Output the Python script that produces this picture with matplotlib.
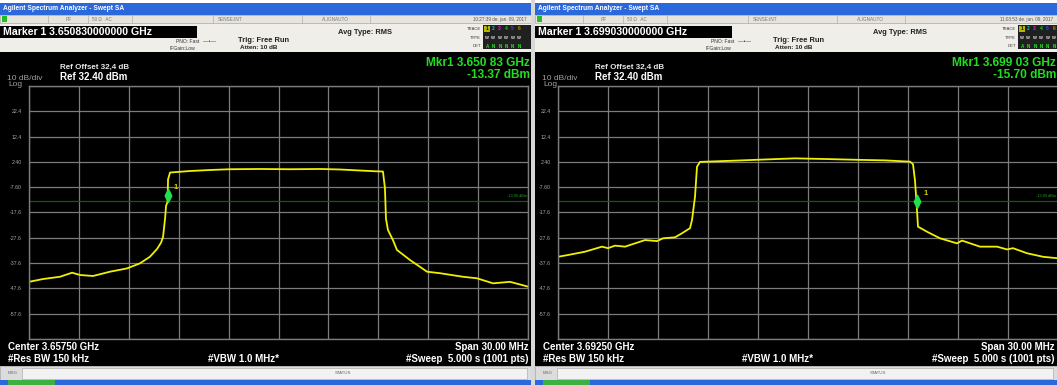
import numpy as np
import matplotlib
matplotlib.use('Agg')
import matplotlib.pyplot as plt
from matplotlib.path import Path
from matplotlib.patches import Rectangle

plt.rcParams['font.family'] = ['Liberation Sans', 'DejaVu Sans']

# trace
LEFT_FREQ_GHZ = [3.64250, 3.64334, 3.64436, 3.64509, 3.64557, 3.64635, 3.64737, 3.64839,
                 3.64917, 3.64977, 3.65020, 3.65044, 3.65056, 3.65068, 3.65074, 3.65083,
                 3.65086, 3.65098, 3.65218, 3.65338, 3.65458, 3.65639, 3.65819, 3.65999,
                 3.66120, 3.66240, 3.66330, 3.66378, 3.66390, 3.66396, 3.66408, 3.66438,
                 3.66462, 3.66541, 3.66643, 3.66721, 3.66859, 3.66943, 3.67040, 3.67142,
                 3.67250]
LEFT_LEVEL_DBM = [-45.0, -43.9, -43.0, -41.4, -42.3, -42.7, -41.0, -39.7,
                  -37.7, -35.1, -32.0, -29.5, -27.2, -20.0, -15.0, -13.37,
                  -4.5, -1.8, -1.2, -0.8, -0.5, -0.4, -0.5, -0.4,
                  -0.6, -1.0, -1.3, -1.4, -8.0, -20.0, -24.5, -28.5,
                  -32.4, -36.4, -41.0, -41.6, -43.0, -43.6, -45.6, -45.0,
                  -46.9]
RIGHT_FREQ_GHZ = [3.67750, 3.67810, 3.67912, 3.68014, 3.68050, 3.68092, 3.68152, 3.68212,
                  3.68272, 3.68344, 3.68380, 3.68452, 3.68494, 3.68542, 3.68554, 3.68572,
                  3.68584, 3.68602, 3.68812, 3.69010, 3.69172, 3.69382, 3.69562, 3.69712,
                  3.69862, 3.69880, 3.69892, 3.69903, 3.69910, 3.69964, 3.70042, 3.70144,
                  3.70174, 3.70282, 3.70384, 3.70444, 3.70480, 3.70564, 3.70660, 3.70750]
RIGHT_LEVEL_DBM = [-35.1, -34.4, -33.1, -31.1, -31.7, -30.7, -31.1, -29.8,
                   -28.5, -28.9, -27.8, -27.4, -25.8, -23.8, -20.6, -11.4,
                   0.5, 2.4, 2.9, 3.4, 3.8, 3.5, 3.2, 3.0,
                   2.5, 1.5, -5.0, -15.70, -23.2, -25.2, -27.8, -29.8,
                   -28.7, -31.1, -31.1, -32.2, -31.7, -33.7, -35.1, -35.7]

CENTERS_GHZ = [3.6575, 3.6925]
SPAN_GHZ = 0.030
REF_LEVEL = 32.4
DB_PER_DIV = 10
MARKERS = [(3.65083, -13.37), (3.69903, -15.70)]
DISPLAY_LINE = -13.0
Y_TICK_LABELS = ['', '-57.6', '-47.6', '-37.6', '-27.6', '-17.6', '-7.60', '2.40', '12.4', '22.4', '']
TIMESTAMPS = ['10:27:39 de. jan. 09, 2017', '11:03:53 de. jan. 09, 2017']
MARKER_TEXT = ['Marker 1 3.650830000000 GHz', 'Marker 1 3.699030000000 GHz']
MKR_FREQ_TEXT = ['Mkr1 3.650 83 GHz', 'Mkr1 3.699 03 GHz']
MKR_LEVEL_TEXT = ['-13.37 dBm', '-15.70 dBm']
CENTER_TEXT = ['Center 3.65750 GHz', 'Center 3.69250 GHz']

W, H = 1057, 385
TITLE_BLUE = '#2a68dc'
TRACE_YELLOW = '#f0f000'
MKR_GREEN = '#22dd22'
GRID_GRAY = '#7c7c7c'

fig = plt.figure(figsize=(W / 100, H / 100), dpi=100)
fig.patch.set_facecolor('white')
bg = fig.add_axes([0, 0, 1, 1])
bg.set_xlim(0, W)
bg.set_ylim(H, 0)
bg.axis('off')

DIAMOND = Path([(0, 0), (0.5, 1), (0, 2), (-0.5, 1), (0, 0)],
               [Path.MOVETO, Path.LINETO, Path.LINETO, Path.LINETO, Path.CLOSEPOLY])


def txt(x, y, s, size, color='black', weight='normal', ha='left', va='center'):
    bg.text(x, y, s, fontsize=size, color=color, fontweight=weight, ha=ha, va=va)


def draw_panel(i, ox, pw, ax_x0, ax_x1, freq, level):
    right = ox + pw
    # window chrome
    bg.add_patch(Rectangle((ox, 3), pw, 12, color=TITLE_BLUE, lw=0))
    txt(ox + 3, 9, 'Agilent Spectrum Analyzer - Swept SA', 4.8, 'white', 'bold')
    bg.add_patch(Rectangle((ox, 15), pw, 37, color='#efeee8', lw=0))
    bg.add_patch(Rectangle((ox, 15), pw, 8, facecolor='#e6e4dc', edgecolor='#a8a8a8', lw=0.5))
    for sx in [48, 88, 132, 213, 302, 370]:
        bg.plot([ox + sx, ox + sx], [15, 23], color='#b0b0b0', lw=0.5)
    bg.add_patch(Rectangle((ox + 2, 16), 5, 6, color='#22bb22', lw=0))
    txt(ox + 66, 19.5, 'RF', 3.3, '#777777')
    txt(ox + 92, 19.5, '50 \u03a9   AC', 3.3, '#777777')
    txt(ox + 218, 19.5, 'SENSE:INT', 3.3, '#777777')
    txt(ox + 322, 19.5, 'ALIGNAUTO', 3.3, '#777777')
    txt(right - 4, 19.5, TIMESTAMPS[i], 3.3, '#555555', ha='right')
    bg.add_patch(Rectangle((ox, 26), 197, 12, color='black', lw=0))
    txt(ox + 3, 32, MARKER_TEXT[i], 7.6, 'white', 'bold')
    txt(ox + 176, 41.5, 'PNO: Fast', 3.6, '#333333')
    txt(ox + 170, 48, 'IFGain:Low', 3.6, '#333333')
    txt(ox + 203, 42, '\u2014\u2022\u2014', 4, '#333333')
    txt(ox + 238, 40, 'Trig: Free Run', 5.4, '#222222', 'bold')
    txt(ox + 240, 47.5, 'Atten: 10 dB', 4.6, '#222222', 'bold')
    txt(ox + 338, 32, 'Avg Type: RMS', 5.4, '#222222', 'bold')
    txt(ox + 481, 29, 'TRACE', 3.0, '#333333', ha='right')
    txt(ox + 481, 38, 'TYPE', 3.0, '#333333', ha='right')
    txt(ox + 481, 46, 'DET', 3.0, '#333333', ha='right')
    bg.add_patch(Rectangle((ox + 483, 25), right - ox - 483, 24, color='#202020', lw=0))
    bg.add_patch(Rectangle((ox + 484, 26), 6, 6, color='#b8b800', lw=0))
    for k, c in enumerate(['#101010', '#10c0c0', '#e020e0', '#20c020', '#4040ff', '#c08000']):
        txt(ox + 485.5 + k * 6.4, 29, str(k + 1), 3.6, c, 'bold')
        txt(ox + 485 + k * 6.4, 38, 'W', 3.0, '#e0e0e0', 'bold')
        txt(ox + 485.5 + k * 6.4, 46, 'A' if k == 0 else 'N', 3.3, '#30e030', 'bold')

    # black display area
    bg.add_patch(Rectangle((ox, 52), pw, 314, color='black', lw=0))
    txt(ox + 60, 67.5, 'Ref Offset 32,4 dB', 5.8, '#e8e8e8', 'bold')
    txt(ox + 7, 78, '10 dB/div', 6.0, '#a0a0a0')
    txt(ox + 60, 77.5, 'Ref 32.40 dBm', 7.0, 'white', 'bold')
    txt(ox + 8, 85, 'Log', 6.0, '#a0a0a0')
    txt(right - 1, 63, MKR_FREQ_TEXT[i], 8.6, MKR_GREEN, 'bold', ha='right')
    txt(right - 1, 75.5, MKR_LEVEL_TEXT[i], 8.6, MKR_GREEN, 'bold', ha='right')
    txt(ox + 8, 347, CENTER_TEXT[i], 7.0, 'white', 'bold')
    txt(ox + 8, 358.5, '#Res BW 150 kHz', 7.0, 'white', 'bold')
    txt(ox + 243, 358.5, '#VBW 1.0 MHz*', 7.0, 'white', 'bold', ha='center')
    txt(right - 2, 347, 'Span 30.00 MHz', 7.0, 'white', 'bold', ha='right')
    txt(right - 2, 358.5, '#Sweep  5.000 s (1001 pts)', 7.0, 'white', 'bold', ha='right')

    # status strip
    bg.add_patch(Rectangle((ox, 366), pw, 14, facecolor='#dcdcdc', edgecolor='#a0a0a0', lw=0.5))
    bg.add_patch(Rectangle((ox + 22, 367.5), pw - 26, 11, facecolor='#f2f2f2', edgecolor='#b0b0b0', lw=0.5))
    txt(ox + 8, 373, 'MSG', 3.2, '#666666')
    txt(ox + 335, 373, 'STATUS', 3.2, '#666666')
    bg.add_patch(Rectangle((ox, 380), pw, 5, color=TITLE_BLUE, lw=0))
    bg.add_patch(Rectangle((ox + 8, 380), 47, 5, color='#3cb043', lw=0))

    # the trace graticule
    ax = fig.add_axes([ax_x0 / W, 1 - 339 / H, (ax_x1 - ax_x0) / W, 253 / H])
    ax.set_facecolor('black')
    lo = CENTERS_GHZ[i] - SPAN_GHZ / 2
    hi = CENTERS_GHZ[i] + SPAN_GHZ / 2
    ax.set_xlim(lo, hi)
    ax.set_ylim(REF_LEVEL - 10 * DB_PER_DIV, REF_LEVEL)
    ax.set_xticks(np.linspace(lo, hi, 11))
    ax.set_xticklabels([])
    ax.set_yticks(np.linspace(REF_LEVEL - 10 * DB_PER_DIV, REF_LEVEL, 11))
    ax.set_yticklabels(Y_TICK_LABELS, fontsize=3.8, color='#a8a8a8')
    ax.tick_params(length=0, pad=5)
    ax.grid(True, color=GRID_GRAY, lw=0.9)
    for sp in ax.spines.values():
        sp.set_color(GRID_GRAY)
        sp.set_linewidth(1.0)
    ax.axhline(DISPLAY_LINE, color='#0e5e0e', lw=0.9)
    ax.text(0.997, DISPLAY_LINE + 1.2, '-13.00 dBm', transform=ax.get_yaxis_transform(),
            fontsize=2.8, color='#20a020', ha='right', va='bottom')
    ax.plot(freq, level, color=TRACE_YELLOW, lw=1.3)
    mf, ml = MARKERS[i]
    ax.plot([mf], [ml], marker=DIAMOND, ms=19, color='#20e050', mec='#20e050', ls='none')
    ax.annotate('1', (mf, ml), xytext=(4.5, 9), textcoords='offset points',
                fontsize=5.5, color='#d0d000', fontweight='bold')
    return ax


draw_panel(0, 0, 531, 29, 528, LEFT_FREQ_GHZ, LEFT_LEVEL_DBM)
draw_panel(1, 535, 522, 558, 1058, RIGHT_FREQ_GHZ, RIGHT_LEVEL_DBM)
bg.add_patch(Rectangle((531, 0), 4, H, color='#d8d8d8', lw=0))

fig.savefig('out.png', dpi=100, facecolor=fig.get_facecolor())
